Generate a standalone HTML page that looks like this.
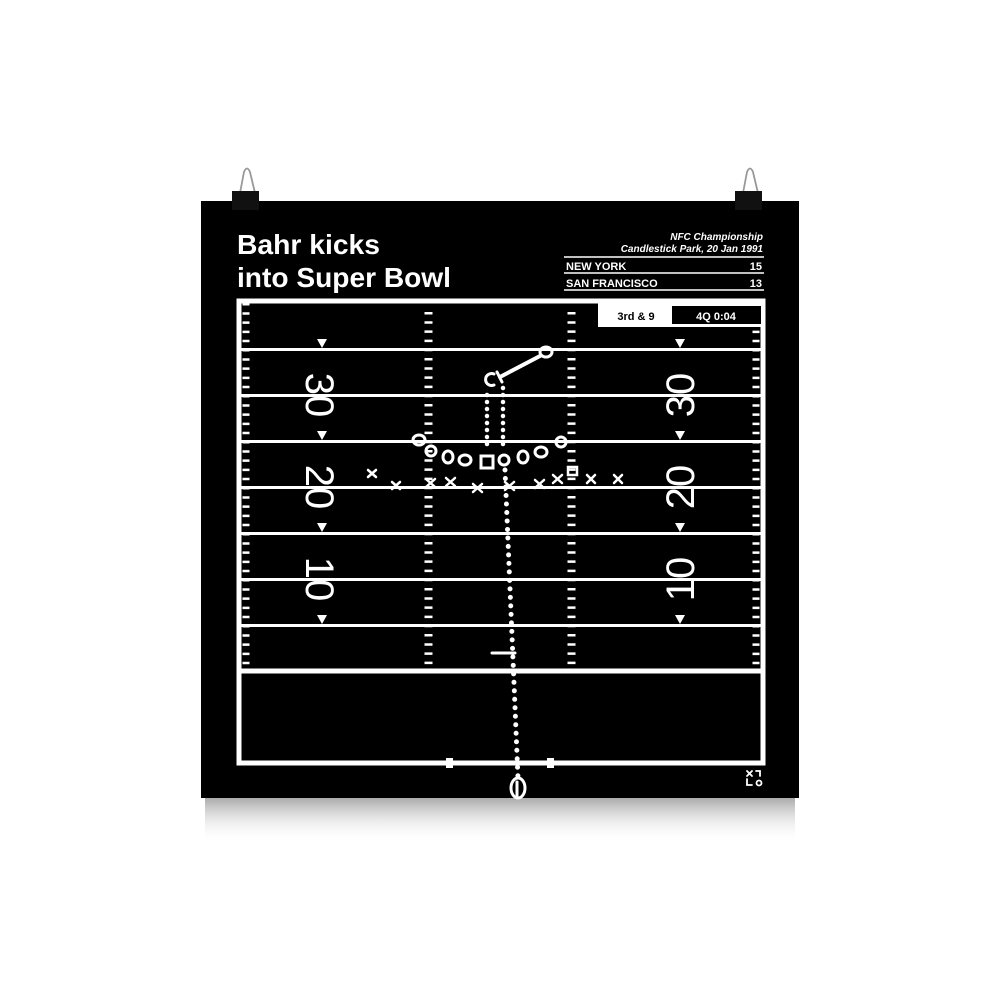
<!DOCTYPE html>
<html><head><meta charset="utf-8"><style>
html,body{margin:0;padding:0;background:#fff;}
body{width:1000px;height:1000px;position:relative;overflow:hidden;}
svg{position:absolute;left:0;top:0;}
text{font-family:"Liberation Sans",sans-serif;}
</style></head><body>
<svg width="1000" height="1000" viewBox="0 0 1000 1000">
<defs>
<linearGradient id="sh" x1="0" y1="0" x2="0" y2="1">
<stop offset="0" stop-color="#aaa"/><stop offset="1" stop-color="#fff" stop-opacity="0"/>
</linearGradient>
</defs>
<rect x="205" y="798" width="590" height="45" fill="url(#sh)"/>
<rect x="201" y="201" width="598" height="597" fill="#000"/>
<!-- clips -->
<g>
<path d="M240 193 L244 172 Q247 165 250 172 L255 193" fill="none" stroke="#999" stroke-width="1.8"/>
<rect x="232" y="191" width="27" height="19" fill="#111"/>
<path d="M743 193 L747 172 Q750 165 753 172 L758 193" fill="none" stroke="#999" stroke-width="1.8"/>
<rect x="735" y="191" width="27" height="19" fill="#111"/>
</g>
<!-- title -->
<text x="237" y="254" fill="#fff" font-size="28" font-weight="bold" textLength="143" lengthAdjust="spacingAndGlyphs">Bahr kicks</text>
<text x="237" y="287" fill="#fff" font-size="28" font-weight="bold" textLength="214" lengthAdjust="spacingAndGlyphs">into Super Bowl</text>
<text x="763" y="240" fill="#fff" font-size="10" font-style="italic" font-weight="bold" text-anchor="end">NFC Championship</text>
<text x="763" y="252" fill="#fff" font-size="10" font-style="italic" font-weight="bold" text-anchor="end">Candlestick Park, 20 Jan 1991</text>
<line x1="564" y1="257" x2="764" y2="257" stroke="#fff" stroke-width="1.5"/>
<line x1="564" y1="273" x2="764" y2="273" stroke="#fff" stroke-width="1.5"/>
<line x1="564" y1="290" x2="764" y2="290" stroke="#fff" stroke-width="1.5"/>
<text x="566" y="270" fill="#fff" font-size="11" font-weight="bold">NEW YORK</text>
<text x="762" y="270" fill="#fff" font-size="11" font-weight="bold" text-anchor="end">15</text>
<text x="566" y="287" fill="#fff" font-size="11" font-weight="bold">SAN FRANCISCO</text>
<text x="762" y="287" fill="#fff" font-size="11" font-weight="bold" text-anchor="end">13</text>
<!-- field -->
<rect x="239" y="301" width="524" height="462" fill="none" stroke="#fff" stroke-width="5"/>
<g stroke="#fff" stroke-width="3">
<line x1="240" y1="349.5" x2="762" y2="349.5"/>
<line x1="240" y1="395.5" x2="762" y2="395.5"/>
<line x1="240" y1="441.5" x2="762" y2="441.5"/>
<line x1="240" y1="487.5" x2="762" y2="487.5"/>
<line x1="240" y1="533.5" x2="762" y2="533.5"/>
<line x1="240" y1="579.5" x2="762" y2="579.5"/>
<line x1="240" y1="625.5" x2="762" y2="625.5"/>
</g>
<line x1="240" y1="671" x2="762" y2="671" stroke="#fff" stroke-width="5"/>
<!-- ticks -->
<g stroke="#fff" stroke-dasharray="2.5 6.7" stroke-dashoffset="0">
<line x1="428.5" y1="312" x2="428.5" y2="668" stroke-width="8"/>
<line x1="571.5" y1="312" x2="571.5" y2="668" stroke-width="8"/>
<line x1="246" y1="303" x2="246" y2="668" stroke-width="7"/>
<line x1="756" y1="303" x2="756" y2="668" stroke-width="7"/>
</g>
<!-- triangles -->
<g fill="#fff">
<path d="M317 339 L327 339 L322 348Z"/><path d="M317 431 L327 431 L322 440Z"/>
<path d="M317 523 L327 523 L322 532Z"/><path d="M317 615 L327 615 L322 624Z"/>
<path d="M675 339 L685 339 L680 348Z"/><path d="M675 431 L685 431 L680 440Z"/>
<path d="M675 523 L685 523 L680 532Z"/><path d="M675 615 L685 615 L680 624Z"/>
</g>
<!-- numbers -->
<g fill="#fff" font-size="40">
<text transform="translate(306 395) rotate(90)" text-anchor="middle">30</text>
<text transform="translate(306 487) rotate(90)" text-anchor="middle">20</text>
<text transform="translate(306 579) rotate(90)" text-anchor="middle">10</text>
<text transform="translate(694 395) rotate(-90)" text-anchor="middle">30</text>
<text transform="translate(694 487) rotate(-90)" text-anchor="middle">20</text>
<text transform="translate(694 579) rotate(-90)" text-anchor="middle">10</text>
</g>
<!-- down box -->
<rect x="598" y="303" width="166" height="24" fill="#fff"/>
<rect x="672" y="306" width="89" height="18" fill="#000"/>
<text x="636" y="320" font-size="11" font-weight="bold" fill="#000" text-anchor="middle">3rd &amp; 9</text>
<text x="716" y="320" font-size="11" font-weight="bold" fill="#fff" text-anchor="middle">4Q 0:04</text>
<!-- goal posts -->
<rect x="446" y="758" width="7" height="10" fill="#fff"/>
<rect x="547" y="758" width="7" height="10" fill="#fff"/>
<!-- play -->
<g fill="none" stroke="#fff" stroke-width="3" stroke-linecap="round">
<line x1="487" y1="395" x2="487" y2="450" stroke-dasharray="0 7" stroke-width="4.5"/>
<line x1="503" y1="388" x2="503" y2="450" stroke-dasharray="0 7" stroke-width="4.5"/>
<line x1="505" y1="470" x2="518" y2="778" stroke-dasharray="0 8.5" stroke-width="5"/>
<path d="M494 374 A6 6 0 1 0 494 385"/>
<line x1="500" y1="377" x2="540" y2="356" stroke-width="4"/>
<line x1="497" y1="372" x2="502" y2="382"/>
<ellipse cx="546" cy="352" rx="6" ry="5"/>
<ellipse cx="419" cy="440" rx="6" ry="5"/>
<ellipse cx="431" cy="451" rx="5" ry="5"/>
<ellipse cx="448" cy="457" rx="5" ry="6"/>
<ellipse cx="465" cy="460" rx="6" ry="5"/>
<rect x="481" y="456" width="12" height="12"/>
<ellipse cx="504" cy="460" rx="5" ry="5"/>
<ellipse cx="523" cy="457" rx="5" ry="6"/>
<ellipse cx="541" cy="452" rx="6" ry="5"/>
<ellipse cx="561" cy="442" rx="5" ry="5"/>
<ellipse cx="518" cy="788" rx="7" ry="10"/>
<line x1="517" y1="782" x2="517" y2="796"/>
<line x1="492" y1="653" x2="515" y2="653"/>
<g stroke-width="2.5">
<path d="M368 470 l8 7 M376 470 l-8 7"/>
<path d="M392 482 l8 7 M400 482 l-8 7"/>
<path d="M426 479 l9 8 M435 479 l-9 8"/>
<path d="M446 478 l9 8 M455 478 l-9 8"/>
<path d="M473 484 l9 8 M482 484 l-9 8"/>
<path d="M505 482 l9 8 M514 482 l-9 8"/>
<path d="M535 480 l9 8 M544 480 l-9 8"/>
<path d="M553 475 l9 8 M562 475 l-9 8"/>
<path d="M587 475 l8 8 M595 475 l-8 8"/>
<path d="M614 475 l8 8 M622 475 l-8 8"/>
<rect x="568" y="467" width="9" height="8"/>
</g>
<!-- logo -->
<g stroke-width="1.8">
<path d="M747 771 l5 5 M752 771 l-5 5"/>
<path d="M756 771 h4 v5"/>
<path d="M747 779 v6 h5"/>
<circle cx="759" cy="783" r="2.5"/>
</g>
</g>
</svg>
</body></html>
